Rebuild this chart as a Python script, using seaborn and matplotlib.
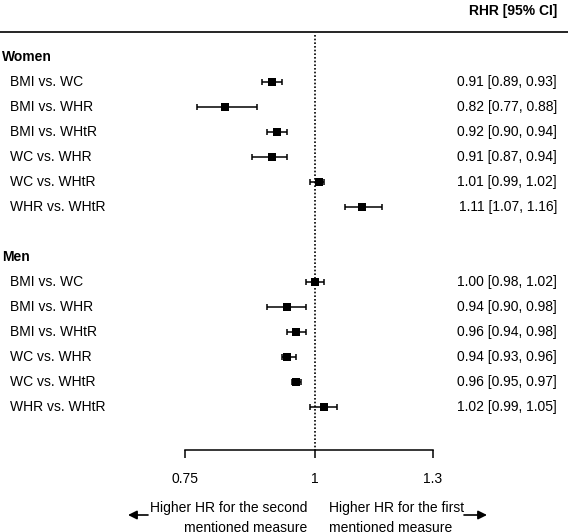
import matplotlib
matplotlib.use("Agg")
import matplotlib.pyplot as plt
from matplotlib.lines import Line2D
from matplotlib.transforms import blended_transform_factory
import numpy as np
import pandas as pd
import seaborn as sns

comparisons = ["BMI vs. WC", "BMI vs. WHR", "BMI vs. WHtR",
               "WC vs. WHR", "WC vs. WHtR", "WHR vs. WHtR"]

women_rhr = [0.91, 0.82, 0.92, 0.91, 1.01, 1.11]
women_lo = [0.89, 0.77, 0.90, 0.87, 0.99, 1.07]
women_hi = [0.93, 0.88, 0.94, 0.94, 1.02, 1.16]

men_rhr = [1.00, 0.94, 0.96, 0.94, 0.96, 1.02]
men_lo = [0.98, 0.90, 0.94, 0.93, 0.95, 0.99]
men_hi = [1.02, 0.98, 0.98, 0.96, 0.97, 1.05]

groups = ["Women", "Men"]
x_ticks = [0.75, 1, 1.3]
x_ticklabels = ["0.75", "1", "1.3"]

# one row per line of the table: group header, then its comparisons, then a gap
rows = []
pos = 1
for g, rhr, lo, hi in [("Women", women_rhr, women_lo, women_hi),
                       ("Men", men_rhr, men_lo, men_hi)]:
    header_pos = pos
    pos += 1
    for lab, r, l, h in zip(comparisons, rhr, lo, hi):
        rows.append({"group": g, "label": lab, "rhr": r, "lo": l, "hi": h, "pos": pos,
                     "header_pos": header_pos})
        pos += 1
    pos += 1
df = pd.DataFrame(rows)

sns.set_theme(style="white")
plt.rcParams["font.family"] = ["Liberation Sans", "DejaVu Sans"]

W, H = 568, 532
fig = plt.figure(figsize=(W / 100, H / 100), dpi=100)
ax = fig.add_axes([185 / W, (H - 450) / H, 248 / W, (450 - 32) / H])
ax.set_xscale("log")
ax.set_xlim(0.75, 1.3)
bottom = (450 - 32) / 25
ax.set_ylim(bottom, 0)

# reference line and estimates
ax.plot([1, 1], [0.1, bottom], color="black", lw=1.2, linestyle=(0, (1, 1.2)), zorder=1)
ax.errorbar(df["rhr"], df["pos"],
            xerr=[df["rhr"] - df["lo"], df["hi"] - df["rhr"]],
            fmt="none", ecolor="black", elinewidth=1.1, capsize=2.5, capthick=1.1, zorder=2)
sns.scatterplot(data=df, x="rhr", y="pos", marker="s", s=38, color="black",
                edgecolor="black", linewidth=0, ax=ax, zorder=3, legend=False)

for side in ["top", "left", "right"]:
    ax.spines[side].set_visible(False)
ax.spines["bottom"].set_color("black")
ax.spines["bottom"].set_linewidth(1.1)
ax.set_xticks(x_ticks)
ax.set_xticklabels(x_ticklabels)
ax.xaxis.set_minor_locator(matplotlib.ticker.NullLocator())
ax.tick_params(axis="x", bottom=True, direction="out", length=6, width=1.1,
               color="black", pad=10, labelsize=10, labelcolor="black")
ax.set_yticks([])
ax.set_xlabel("")
ax.set_ylabel("")

tr = blended_transform_factory(fig.transFigure, ax.transData)

# table text
for g in groups:
    hp = df.loc[df["group"] == g, "header_pos"].iloc[0]
    ax.text(2 / W, hp, g, transform=tr, ha="left", va="center",
            fontsize=10, fontweight="bold", color="black")
for _, r in df.iterrows():
    ax.text(10 / W, r["pos"], r["label"], transform=tr, ha="left", va="center",
            fontsize=10, color="black")
    ax.text(557 / W, r["pos"], f"{r['rhr']:.2f} [{r['lo']:.2f}, {r['hi']:.2f}]",
            transform=tr, ha="right", va="center", fontsize=10, color="black")

fig.text(557 / W, 1 - 11 / H, "RHR [95% CI]", ha="right", va="center",
         fontsize=10, fontweight="bold", color="black")
fig.add_artist(Line2D([0, 1], [1 - 32 / H, 1 - 32 / H], transform=fig.transFigure,
                      color="black", lw=1.2))

# direction notes under the axis
fig.text(307 / W, 1 - 518 / H, "Higher HR for the second\nmentioned measure",
         ha="right", va="center", fontsize=10, color="black", linespacing=1.55,
         multialignment="right")
fig.text(329 / W, 1 - 518 / H, "Higher HR for the first\nmentioned measure",
         ha="left", va="center", fontsize=10, color="black", linespacing=1.55,
         multialignment="left")
arrow = dict(arrowstyle="-|>", color="black", lw=1.2, mutation_scale=13,
             shrinkA=0, shrinkB=0)
fig.add_artist(matplotlib.patches.FancyArrowPatch((148 / W, 1 - 515 / H), (128 / W, 1 - 515 / H),
                                                  transform=fig.transFigure, **arrow))
fig.add_artist(matplotlib.patches.FancyArrowPatch((464 / W, 1 - 515 / H), (487 / W, 1 - 515 / H),
                                                  transform=fig.transFigure, **arrow))

fig.savefig("out.png", dpi=100, facecolor="white")
